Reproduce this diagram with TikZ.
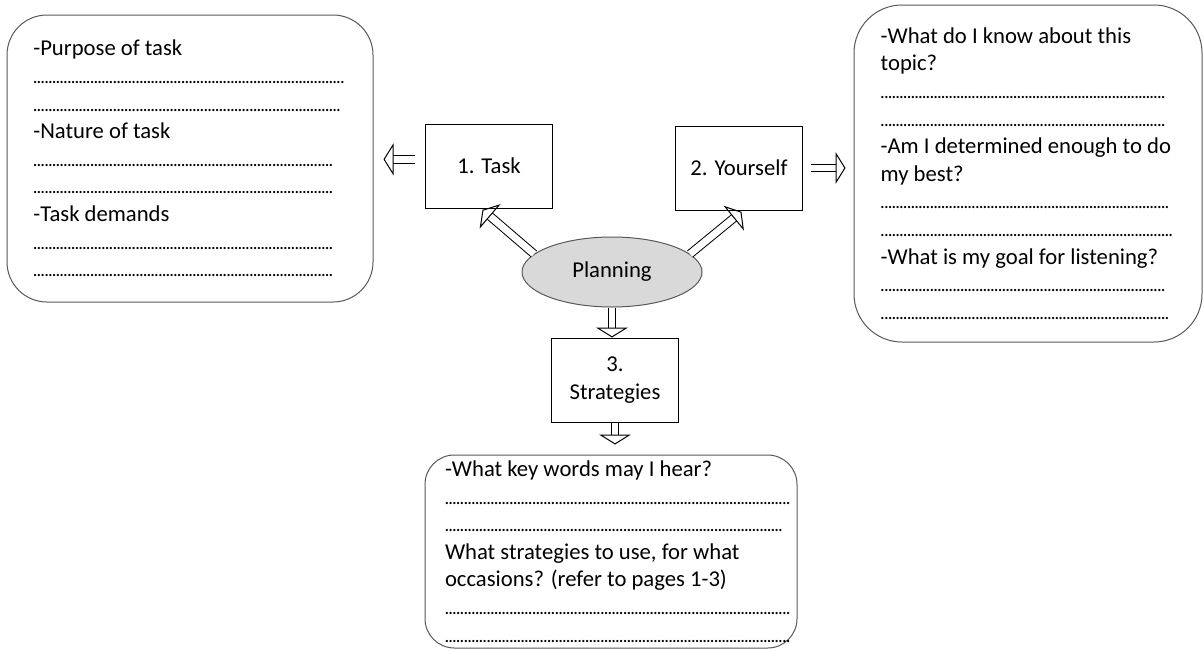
\documentclass[tikz,border=0pt]{standalone}
\usepackage{fontspec}
\setmainfont{Carlito}
\usetikzlibrary{arrows.meta,positioning,calc,shapes.geometric}
\definecolor{inkBlack}{RGB}{0, 0, 0}
\definecolor{inkRule}{RGB}{89, 89, 89}
\definecolor{planGrey}{RGB}{217, 217, 217}
\newcommand{\blankline}[1]{\leavevmode\hbox to #1{\leaders\hbox to 2.85pt{\hss\fontsize{14pt}{14pt}\selectfont.\hss}\hfill}}

\begin{document}
\begin{tikzpicture}[x=0.75pt, y=-0.75pt,
    every node/.style={font=\fontsize{17pt}{20.7pt}\selectfont, text=inkBlack},
    stagebox/.style={draw=inkBlack, line width=0.75pt, fill=white, minimum width=95pt, minimum height=63pt, align=center, inner sep=2pt},
    notebox/.style={draw=inkRule, line width=0.75pt, fill=white, align=flush left, inner sep=0pt},
    hollow/.style={draw=inkBlack, line width=0.75pt, double=white, double distance=5.2pt, -{Triangle[open, length=7.5pt, width=24pt]}}]
    \useasboundingbox (0,0) rectangle (1203,650);

    % stages round the centre
    \node[ellipse, draw=inkRule, line width=0.75pt, fill=planGrey, minimum width=135pt, minimum height=52.5pt, inner sep=0pt] (planning) at (612,272) {Planning};
    \node[stagebox] (task) at (489,166) {1. Task};
    \node[stagebox] (yourself) at (739,168) {2. Yourself};
    \node[stagebox] (strategies) at (615,380) {3.\\Strategies};

    % note boxes
    \node[notebox, rounded corners=30pt, minimum width=274.5pt, minimum height=215.25pt] (taskNotes) at (190,158.5) {
        -Purpose of task\\ \blankline{235pt}\\ \blankline{232pt}\\
        -Nature of task\\ \blankline{228pt}\\ \blankline{228pt}\\
        -Task demands\\ \blankline{228pt}\\ \blankline{228pt}};
    \node[notebox, rounded corners=36pt, minimum width=261pt, minimum height=252.75pt] (selfNotes) at (1028,173.5) {
        -What do I know about this\\ topic?\\ \blankline{214pt}\\ \blankline{214pt}\\
        -Am I determined enough to do\\ my best?\\ \blankline{219pt}\\ \blankline{221pt}\\
        -What is my goal for listening?\\ \blankline{215pt}\\ \blankline{219pt}};
    \node[notebox, rounded corners=22pt, minimum width=279pt, minimum height=144.75pt, text width=249pt] (strategyNotes) at (611,551.5) {
        -What key words may I hear?\\ \blankline{260pt}\\ \blankline{256.5pt}\\
        What strategies to use, for what\\ occasions? (refer to pages 1-3)\\ \blankline{260pt}\\ \blankline{260pt}};

    % hollow arrows
    \draw[hollow, shorten <=8pt, shorten >=7.5pt] ([yshift=5pt]task.west) -- ([yshift=5pt]task.west -| taskNotes.east);
    \draw[hollow, shorten <=6pt, shorten >=6pt] (yourself.east) -- (yourself.east -| selfNotes.west);
    \draw[hollow, shorten >=1.5pt] (planning.167) -- ([xshift=-6pt]task.south);
    \draw[hollow, shorten >=1.5pt] (planning.13) -- ([xshift=3pt]yourself.south);
    \draw[hollow] (planning.south) -- (planning.south |- strategies.north);
    \draw[hollow, shorten >=7.5pt] (strategies.south) -- (strategies.south |- strategyNotes.north);
\end{tikzpicture}
\end{document}
